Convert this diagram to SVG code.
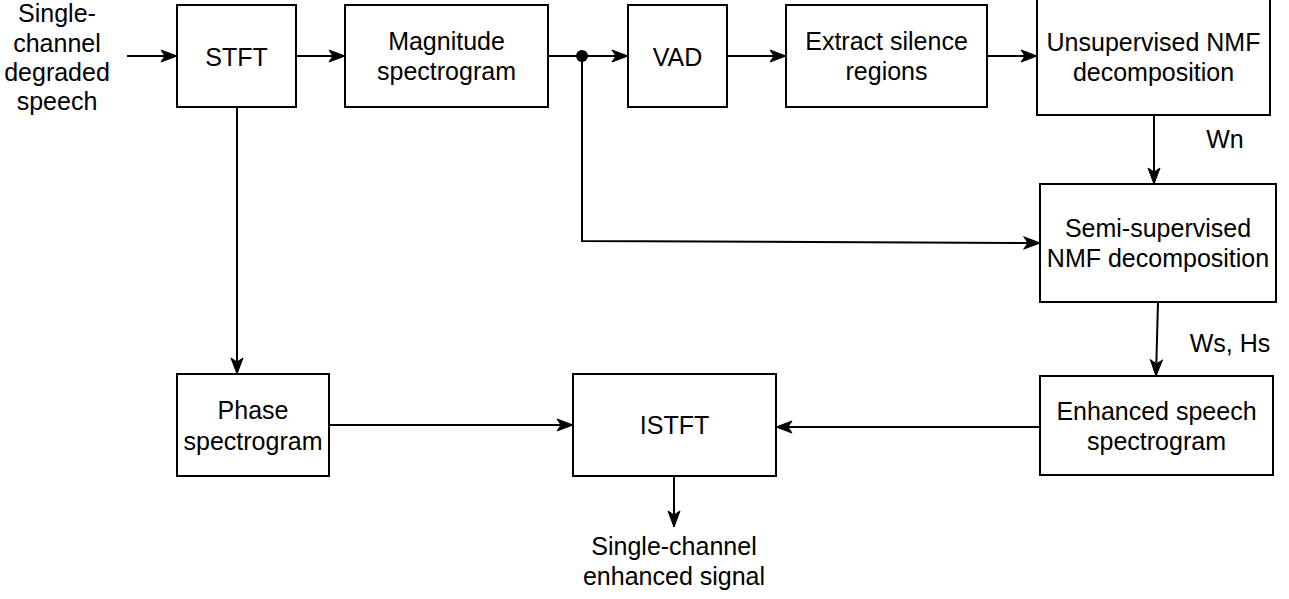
<svg xmlns="http://www.w3.org/2000/svg" width="1289" height="599" viewBox="0 0 1289 599">
<style>
.box{fill:#fff;stroke:#000;stroke-width:2}
.t{font-family:"Liberation Sans",Arial,sans-serif;font-size:25px;fill:#000;text-anchor:middle}
.c{fill:none;stroke:#000;stroke-width:2}
</style>
<defs>
<marker id="a" markerUnits="userSpaceOnUse" markerWidth="18" markerHeight="14" viewBox="0 0 18 14" refX="17" refY="7" orient="auto">
<path d="M1,1 L17,7 L1,13 L5,7 Z" fill="#000" stroke="#000" stroke-width="1"/>
</marker>
</defs>
<rect width="1289" height="599" fill="#fff"/>
<g id="connectors">
<path class="c" d="M127,56 H177" marker-end="url(#a)"/>
<path class="c" d="M296,56 H345" marker-end="url(#a)"/>
<path class="c" d="M548,56 H628" marker-end="url(#a)"/>
<path class="c" d="M727,56 H786" marker-end="url(#a)"/>
<path class="c" d="M987,56 H1037" marker-end="url(#a)"/>
<path class="c" d="M1154,115 V184" marker-end="url(#a)"/>
<path class="c" d="M582,56 V241 L1040,243" marker-end="url(#a)"/>
<path class="c" d="M1158,302 L1156,376" marker-end="url(#a)"/>
<path class="c" d="M1040,427 H776" marker-end="url(#a)"/>
<path class="c" d="M329,425 H573" marker-end="url(#a)"/>
<path class="c" d="M237,107 V374" marker-end="url(#a)"/>
<path class="c" d="M674,476 V527" marker-end="url(#a)"/>
<circle cx="582" cy="56" r="6" fill="#000"/>
<text class="t" x="1225" y="148">Wn</text>
<text class="t" x="1230" y="352">Ws, Hs</text>
</g>
<g id="input">
<text class="t" x="57" y="22">Single-</text>
<text class="t" x="57" y="52">channel</text>
<text class="t" x="57" y="81">degraded</text>
<text class="t" x="57" y="110">speech</text>
</g>
<g id="stft">
<rect class="box" x="177" y="5" width="119" height="102"/>
<text class="t" x="236.5" y="66">STFT</text>
</g>
<g id="magnitude">
<rect class="box" x="345" y="5" width="203" height="102"/>
<text class="t" x="446.5" y="50">Magnitude</text>
<text class="t" x="446.5" y="80">spectrogram</text>
</g>
<g id="vad">
<rect class="box" x="628" y="5" width="99" height="102"/>
<text class="t" x="677.5" y="66">VAD</text>
</g>
<g id="extract">
<rect class="box" x="786" y="5" width="201" height="102"/>
<text class="t" x="886.5" y="50">Extract silence</text>
<text class="t" x="886.5" y="80">regions</text>
</g>
<g id="unsupervised">
<rect class="box" x="1037" y="-5" width="233" height="120"/>
<text class="t" x="1153.5" y="51">Unsupervised NMF</text>
<text class="t" x="1153.5" y="81">decomposition</text>
</g>
<g id="semisupervised">
<rect class="box" x="1040" y="184" width="236" height="118"/>
<text class="t" x="1158" y="237">Semi-supervised</text>
<text class="t" x="1158" y="267">NMF decomposition</text>
</g>
<g id="enhanced">
<rect class="box" x="1040" y="376" width="233" height="99"/>
<text class="t" x="1156.5" y="420">Enhanced speech</text>
<text class="t" x="1156.5" y="450">spectrogram</text>
</g>
<g id="phase">
<rect class="box" x="177" y="374" width="152" height="102"/>
<text class="t" x="253" y="419">Phase</text>
<text class="t" x="253" y="450">spectrogram</text>
</g>
<g id="istft">
<rect class="box" x="573" y="374" width="203" height="102"/>
<text class="t" x="674.5" y="434">ISTFT</text>
</g>
<g id="output">
<text class="t" x="674" y="555">Single-channel</text>
<text class="t" x="674" y="585">enhanced signal</text>
</g>
</svg>
